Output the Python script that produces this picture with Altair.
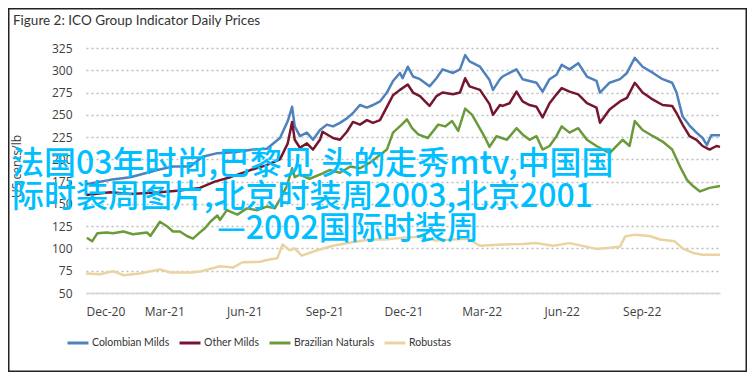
import altair as alt
import pandas as pd

series_names = ["Colombian Milds", "Other Milds", "Brazilian Naturals", "Robustas"]
series_colors = ["#4F81BD", "#76162E", "#6A9A3A", "#EAD3A0"]

colombian_dates = ["2020-12-01", "2020-12-29", "2021-01-21", "2021-02-21", "2021-03-11", "2021-03-31", "2021-04-14", "2021-05-01", "2021-05-21", "2021-06-11", "2021-06-27", "2021-07-12", "2021-07-21", "2021-07-26", "2021-07-29", "2021-08-04", "2021-08-12", "2021-08-19", "2021-08-27", "2021-09-04", "2021-09-11", "2021-09-19", "2021-09-27", "2021-10-04", "2021-10-12", "2021-10-20", "2021-10-27", "2021-11-04", "2021-11-12", "2021-11-19", "2021-11-27", "2021-11-30", "2021-12-06", "2021-12-12", "2021-12-20", "2021-12-31", "2022-01-08", "2022-01-15", "2022-01-27", "2022-02-04", "2022-02-10", "2022-02-15", "2022-02-27", "2022-03-10", "2022-03-14", "2022-03-22", "2022-03-25", "2022-04-02", "2022-04-10", "2022-04-17", "2022-04-25", "2022-05-03", "2022-05-10", "2022-05-18", "2022-05-26", "2022-06-01", "2022-06-10", "2022-06-20", "2022-06-30", "2022-07-11", "2022-07-15", "2022-07-26", "2022-08-07", "2022-08-15", "2022-08-24", "2022-09-02", "2022-09-14", "2022-09-25", "2022-10-06", "2022-10-11", "2022-10-18", "2022-10-26", "2022-11-03", "2022-11-10", "2022-11-15", "2022-11-20", "2022-11-30"]
colombian_values = [172, 177, 180, 188, 192, 192, 203, 207, 208, 211, 212, 224, 243, 259, 237, 226, 230, 222, 233, 239, 237, 241, 246, 252, 261, 258, 261, 265, 275, 288, 297, 291, 304, 293, 290, 282, 291, 301, 297, 301, 317, 310, 304, 289, 278, 290, 293, 297, 301, 290, 288, 286, 276, 290, 295, 306, 301, 308, 293, 288, 275, 286, 290, 297, 314, 304, 297, 290, 286, 275, 248, 238, 230, 224, 216, 227, 227]

other_dates = ["2020-12-01", "2020-12-29", "2021-01-21", "2021-02-24", "2021-03-19", "2021-04-11", "2021-04-28", "2021-05-16", "2021-06-08", "2021-06-25", "2021-07-12", "2021-07-21", "2021-07-26", "2021-07-29", "2021-08-04", "2021-08-12", "2021-08-19", "2021-08-27", "2021-08-30", "2021-09-11", "2021-09-19", "2021-09-27", "2021-10-04", "2021-10-12", "2021-10-20", "2021-10-27", "2021-11-04", "2021-11-12", "2021-11-19", "2021-11-27", "2021-12-06", "2021-12-12", "2021-12-20", "2021-12-31", "2022-01-08", "2022-01-15", "2022-01-27", "2022-02-04", "2022-02-10", "2022-02-15", "2022-02-27", "2022-03-10", "2022-03-14", "2022-03-22", "2022-03-25", "2022-04-02", "2022-04-10", "2022-04-17", "2022-04-25", "2022-05-03", "2022-05-10", "2022-05-18", "2022-05-26", "2022-06-01", "2022-06-10", "2022-06-20", "2022-06-30", "2022-07-11", "2022-07-15", "2022-07-26", "2022-08-07", "2022-08-15", "2022-08-24", "2022-09-02", "2022-09-14", "2022-09-25", "2022-10-06", "2022-10-11", "2022-10-18", "2022-10-26", "2022-11-03", "2022-11-10", "2022-11-18", "2022-11-26", "2022-11-30"]
other_values = [160, 163, 161, 163, 165, 168, 175, 180, 188, 193, 200, 218, 242, 222, 213, 218, 211, 222, 231, 224, 222, 231, 242, 239, 244, 241, 244, 259, 272, 278, 284, 275, 271, 260, 271, 275, 273, 275, 291, 282, 278, 262, 250, 261, 260, 263, 276, 265, 261, 259, 247, 263, 273, 280, 276, 273, 263, 258, 241, 256, 265, 269, 286, 275, 267, 261, 260, 252, 239, 226, 222, 215, 211, 215, 214]

brazil_dates = ["2020-12-02", "2020-12-08", "2020-12-14", "2020-12-25", "2021-01-01", "2021-01-13", "2021-01-24", "2021-02-09", "2021-02-13", "2021-02-24", "2021-03-04", "2021-03-11", "2021-03-19", "2021-03-27", "2021-04-03", "2021-04-11", "2021-04-17", "2021-04-23", "2021-05-01", "2021-05-04", "2021-05-12", "2021-05-24", "2021-06-04", "2021-06-16", "2021-06-27", "2021-07-06", "2021-07-12", "2021-07-20", "2021-07-26", "2021-07-29", "2021-08-04", "2021-08-15", "2021-08-27", "2021-09-07", "2021-09-19", "2021-10-01", "2021-10-12", "2021-10-23", "2021-11-04", "2021-11-12", "2021-11-19", "2021-11-29", "2021-12-05", "2021-12-11", "2021-12-18", "2021-12-29", "2022-01-10", "2022-01-18", "2022-01-26", "2022-02-02", "2022-02-10", "2022-02-18", "2022-02-25", "2022-03-05", "2022-03-10", "2022-03-18", "2022-03-30", "2022-04-10", "2022-04-17", "2022-04-25", "2022-05-03", "2022-05-10", "2022-05-18", "2022-05-26", "2022-06-01", "2022-06-10", "2022-06-20", "2022-06-30", "2022-07-11", "2022-07-26", "2022-08-10", "2022-08-18", "2022-08-24", "2022-09-02", "2022-09-14", "2022-09-25", "2022-10-06", "2022-10-15", "2022-10-23", "2022-10-30", "2022-11-07", "2022-11-18", "2022-11-30"]
brazil_values = [112, 108, 117, 118, 117, 119, 116, 118, 114, 130, 125, 119, 119, 114, 111, 118, 123, 130, 137, 132, 143, 138, 145, 143, 147, 145, 155, 170, 190, 180, 183, 178, 183, 188, 185, 192, 190, 196, 205, 211, 230, 239, 245, 235, 228, 224, 239, 237, 243, 232, 257, 250, 238, 224, 214, 226, 222, 235, 228, 222, 226, 211, 215, 226, 237, 230, 235, 222, 215, 207, 222, 215, 243, 233, 226, 220, 211, 192, 177, 170, 164, 168, 170]

robusta_dates = ["2020-12-01", "2020-12-17", "2021-01-01", "2021-01-13", "2021-02-01", "2021-02-24", "2021-03-08", "2021-03-31", "2021-04-11", "2021-05-04", "2021-05-19", "2021-05-30", "2021-06-19", "2021-06-27", "2021-07-09", "2021-07-15", "2021-07-23", "2021-07-29", "2021-08-06", "2021-08-24", "2021-09-11", "2021-10-03", "2021-10-23", "2021-11-10", "2021-11-30", "2021-12-18", "2022-01-08", "2022-01-26", "2022-02-13", "2022-02-27", "2022-03-25", "2022-04-17", "2022-05-03", "2022-05-22", "2022-06-10", "2022-07-11", "2022-08-07", "2022-08-13", "2022-08-24", "2022-09-10", "2022-09-22", "2022-10-09", "2022-10-18", "2022-10-30", "2022-11-10", "2022-11-30"]
robusta_values = [72, 71, 74.5, 70, 72, 76.5, 73, 73, 74, 80, 78.5, 84.5, 85, 87, 89, 104.5, 98, 100, 92, 98, 103, 107, 110, 110, 112, 113, 109, 110, 111, 103, 104.5, 105, 106, 103, 106, 99.5, 102, 113.5, 115.5, 114, 110, 108, 100, 95, 93, 93]

y_ticks = [50, 75, 100, 125, 150, 175, 200, 225, 250, 275, 300, 325]
x_tick_months = [(2020, 12), (2021, 3), (2021, 6), (2021, 9), (2021, 12), (2022, 3), (2022, 6), (2022, 9)]

title_text = "Figure 2: ICO Group Indicator Daily Prices"
y_title = "US cents/lb"
overlay_lines = ["法国03年时尚,巴黎见 头的走秀mtv,中国国", "际时装周图片,北京时装周2003,北京2001", "—2002国际时装周"]

frames = []
for name, d, v in [(series_names[0], colombian_dates, colombian_values),
                   (series_names[1], other_dates, other_values),
                   (series_names[2], brazil_dates, brazil_values),
                   (series_names[3], robusta_dates, robusta_values)]:
    frames.append(pd.DataFrame({"date": d, "value": v, "series": name}))
df = pd.concat(frames, ignore_index=True)

W, H = 634, 245
TICK_FONT = "Open Sans"
NARROW = "Lato"

x_enc = alt.X(
    "date:T",
    scale=alt.Scale(type="utc", domain=[alt.DateTime(year=2020, month=12, date=1, utc=True),
                                        alt.DateTime(year=2022, month=11, date=30, utc=True)]),
    axis=alt.Axis(values=[alt.DateTime(year=y, month=m, date=1, utc=True) for y, m in x_tick_months],
                  format="%b-%y", title=None, grid=False, ticks=False, labelPadding=13,
                  domainColor="#d4d4d4", domainWidth=1.5, labelFont=TICK_FONT, labelFontSize=12,
                  labelColor="#404040"),
)
y_enc = alt.Y(
    "value:Q",
    scale=alt.Scale(domain=[50, 325], nice=False, zero=False),
    axis=alt.Axis(values=y_ticks, title=y_title, grid=True, gridDash=[2, 3], gridColor="#bdbdbd",
                  gridWidth=1.3, domain=False, ticks=False, labelPadding=14, labelFont=TICK_FONT,
                  labelFontSize=12, labelColor="#404040", titleFont=TICK_FONT, titleFontSize=12,
                  titleFontWeight="normal", titleColor="#404040", titleAngle=270, titleX=-70,
                  titleY=118, titleAlign="center", titleBaseline="middle"),
)

lines = alt.Chart(df).mark_line(strokeWidth=2.5, strokeJoin="round").encode(
    x=x_enc,
    y=y_enc,
    color=alt.Color("series:N", sort=series_names,
                    scale=alt.Scale(domain=series_names, range=series_colors),
                    legend=alt.Legend(orient="none", legendX=-20, legendY=283, direction="horizontal",
                                      columns=4, title=None, symbolType="stroke", symbolStrokeWidth=3,
                                      symbolSize=441, labelFont=NARROW, labelFontSize=10.5,
                                      labelColor="#333333", columnPadding=3, labelOffset=2)),
)

dummy = pd.DataFrame({"k": [0]})
frame = alt.Chart(dummy).mark_rect(fillOpacity=0, stroke="#222222", strokeWidth=1.5).encode(
    x=alt.value(-77.25), x2=alt.value(660.25), y=alt.value(-39.25), y2=alt.value(323.25))

title = alt.Chart(dummy).mark_text(text=title_text, align="left", baseline="alphabetic", font=NARROW,
                                   fontSize=13.5, color="#333333").encode(
    x=alt.value(-73), y=alt.value(-23))

overlay_pos = [(-74, 126), (-74, 159), (131, 191)]
overlays = [
    alt.Chart(dummy).mark_text(text=t, align="left", baseline="alphabetic", font="Noto Sans CJK SC",
                               fontSize=32, fontWeight=500, color="#00BFFF").encode(
        x=alt.value(px), y=alt.value(py))
    for t, (px, py) in zip(overlay_lines, overlay_pos)
]

chart = alt.layer(lines, frame, title, *overlays).properties(
    width=W, height=H,
    padding={"left": 78, "top": 40, "right": 27, "bottom": 79},
    autosize=alt.AutoSizeParams(type="none"),
    background="white",
).configure_view(stroke=None)

chart.save("out.html", embed_options={"renderer": "svg", "actions": False})
